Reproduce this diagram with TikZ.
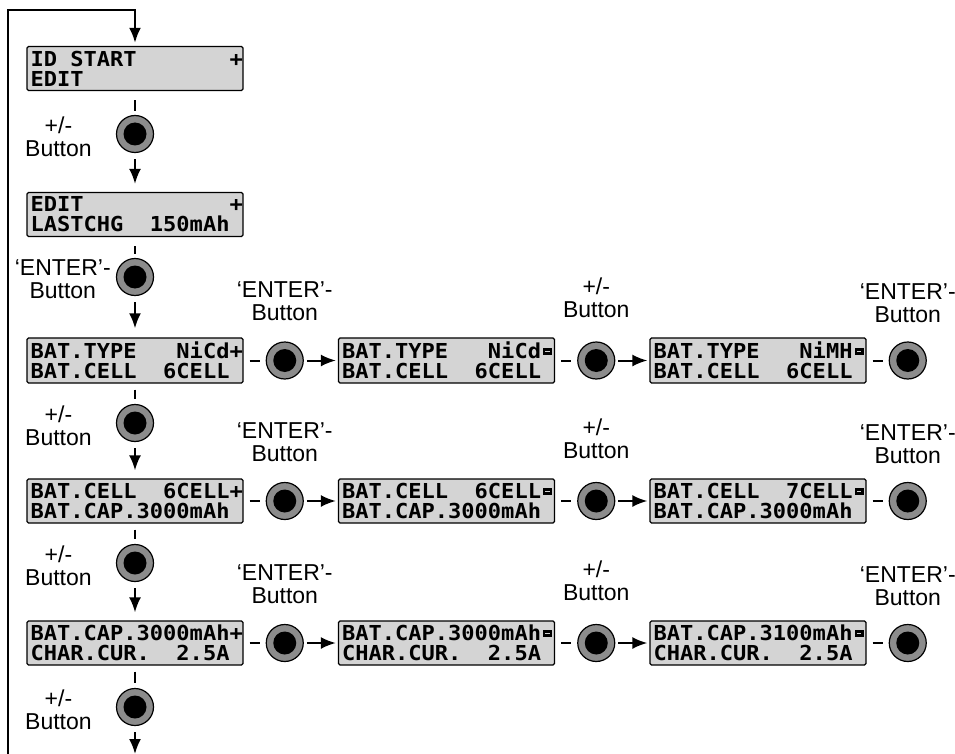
\documentclass[tikz,border=0pt]{standalone}
\usepackage{fontspec}
\setmainfont{Liberation Sans}
\newfontfamily\lcdfont{DejaVu Sans Mono}[FakeStretch=1.07]
\usepackage{tikz}
\usetikzlibrary{positioning, arrows.meta}

\definecolor{lcdgray}{gray}{0.83}
\definecolor{ringgray}{gray}{0.55}

% blank cells and the little black box with a dash, as shown on the display
\newcommand\gap[1]{\hspace*{#1\fontcharwd\font`0}}
\newcommand\lcdminus{\makebox[\fontcharwd\font`0][c]{\raisebox{0.17em}{\rlap{\rule{0.42em}{0.34em}}\hspace{0.1em}\textcolor{lcdgray}{\rule[0.15em]{0.22em}{0.05em}}\hspace{0.1em}}}}

\begin{document}
\begin{tikzpicture}[
						x=1pt, y=-1pt,
						every node/.style={font=\fontsize{23}{23}\selectfont},
						lcd/.style={draw, line width=1.3pt, fill=lcdgray, rounded corners=1.5pt,
								text width=209pt, minimum height=44pt, inner xsep=3.5pt, inner ysep=4pt, align=left,
								font=\lcdfont\bfseries\fontsize{20.6}{20}\selectfont},
						knob/.style={circle, draw, line width=1.2pt, fill=ringgray, minimum size=37pt, inner sep=0pt,
								path picture={\fill[black] (path picture bounding box.center) circle (11.5pt);}},
						lbl/.style={align=center, inner sep=0pt},
						stub/.style={line width=2pt},
						flow/.style={line width=2pt, -{Latex[length=15pt,width=12pt]}}
				]
    \useasboundingbox (0,0) rectangle (955,754);

    % main column
    \node[lcd] (IdStart) at (135,68.5) {ID\gap{1}START\gap{7}+\\EDIT};
    \node[knob] (PlusA) at (135,134) {};
    \node[lcd] (LastChg) at (135,214.5) {EDIT\gap{11}+\\LASTCHG\gap{2}150mAh};
    \node[knob] (EnterA) at (135,277) {};
    \node[lcd] (TypeNiCd) at (135,360.5) {BAT.TYPE\gap{3}NiCd+\\BAT.CELL\gap{2}6CELL};
    \node[knob] (PlusB) at (135,423) {};
    \node[lcd] (CellSix) at (135,501) {BAT.CELL\gap{2}6CELL+\\BAT.CAP.3000mAh};
    \node[knob] (PlusC) at (135,563) {};
    \node[lcd] (CapOld) at (135,643) {BAT.CAP.3000mAh+\\CHAR.CUR.\gap{2}2.5A};
    \node[knob] (PlusD) at (135,707) {};

    % battery type row
    \node[knob, right=22pt of TypeNiCd] (EnterType) {};
    \node[lcd, right=34pt of EnterType] (TypeSel) {BAT.TYPE\gap{3}NiCd\lcdminus\\BAT.CELL\gap{2}6CELL};
    \node[knob, right=22pt of TypeSel] (PlusType) {};
    \node[lcd, right=34pt of PlusType] (TypeNiMH) {BAT.TYPE\gap{3}NiMH\lcdminus\\BAT.CELL\gap{2}6CELL};
    \node[knob, right=22pt of TypeNiMH] (EnterTypeEnd) {};

    % cell count row
    \node[knob, right=22pt of CellSix] (EnterCell) {};
    \node[lcd, right=34pt of EnterCell] (CellSel) {BAT.CELL\gap{2}6CELL\lcdminus\\BAT.CAP.3000mAh};
    \node[knob, right=22pt of CellSel] (PlusCell) {};
    \node[lcd, right=34pt of PlusCell] (CellSeven) {BAT.CELL\gap{2}7CELL\lcdminus\\BAT.CAP.3000mAh};
    \node[knob, right=22pt of CellSeven] (EnterCellEnd) {};

    % capacity row
    \node[knob, right=22pt of CapOld] (EnterCap) {};
    \node[lcd, right=34pt of EnterCap] (CapSel) {BAT.CAP.3000mAh\lcdminus\\CHAR.CUR.\gap{2}2.5A};
    \node[knob, right=22pt of CapSel] (PlusCap) {};
    \node[lcd, right=34pt of PlusCap] (CapNew) {BAT.CAP.3100mAh\lcdminus\\CHAR.CUR.\gap{2}2.5A};
    \node[knob, right=22pt of CapNew] (EnterCapEnd) {};

    % button labels
    \node[lbl, left=24pt of PlusA, yshift=-3pt] (PlusALabel) {+/-\\Button};
    \node[lbl, left=5pt of EnterA, yshift=-2pt] (EnterALabel) {‘ENTER’-\\Button};
    \node[lbl, left=24pt of PlusB, yshift=-3pt] (PlusBLabel) {+/-\\Button};
    \node[lbl, left=24pt of PlusC, yshift=-3pt] (PlusCLabel) {+/-\\Button};
    \node[lbl, left=24pt of PlusD, yshift=-3pt] (PlusDLabel) {+/-\\Button};
    \node[lbl, above=20pt of EnterType] (EnterTypeLabel) {‘ENTER’-\\Button};
    \node[lbl, above=23pt of PlusType] (PlusTypeLabel) {+/-\\Button};
    \node[lbl, above=18pt of EnterTypeEnd] (EnterTypeEndLabel) {‘ENTER’-\\Button};
    \node[lbl, above=20pt of EnterCell] (EnterCellLabel) {‘ENTER’-\\Button};
    \node[lbl, above=23pt of PlusCell] (PlusCellLabel) {+/-\\Button};
    \node[lbl, above=18pt of EnterCellEnd] (EnterCellEndLabel) {‘ENTER’-\\Button};
    \node[lbl, above=20pt of EnterCap] (EnterCapLabel) {‘ENTER’-\\Button};
    \node[lbl, above=23pt of PlusCap] (PlusCapLabel) {+/-\\Button};
    \node[lbl, above=18pt of EnterCapEnd] (EnterCapEndLabel) {‘ENTER’-\\Button};

    % loop back to the start
    \coordinate (LoopBottom) at (8,754);
    \coordinate (LoopTop) at (8,10);
    \coordinate (LoopExit) at (135,754);
    \draw[flow, line width=2.3pt, shorten >=3pt] (LoopBottom) -- (LoopTop) -| (IdStart.north);
    \draw[flow, shorten <=6pt] (PlusD) -- (LoopExit);

    % vertical steps
    \draw[stub, shorten <=9pt, shorten >=4pt] (IdStart) -- (PlusA);
    \draw[flow, shorten <=6pt, shorten >=8pt] (PlusA) -- (LastChg);
    \draw[stub, shorten <=9pt, shorten >=4pt] (LastChg) -- (EnterA);
    \draw[flow, shorten <=6pt, shorten >=9pt] (EnterA) -- (TypeNiCd);
    \draw[stub, shorten <=6pt, shorten >=5pt] (TypeNiCd) -- (PlusB);
    \draw[flow, shorten <=6pt, shorten >=8pt] (PlusB) -- (CellSix);
    \draw[stub, shorten <=6pt, shorten >=5pt] (CellSix) -- (PlusC);
    \draw[flow, shorten <=6pt, shorten >=8pt] (PlusC) -- (CapOld);
    \draw[stub, shorten <=6pt, shorten >=5pt] (CapOld) -- (PlusD);

    % horizontal steps
    \draw[stub, shorten <=6pt, shorten >=6pt] (TypeNiCd) -- (EnterType);
    \draw[flow, shorten <=3pt, shorten >=2pt] (EnterType) -- (TypeSel);
    \draw[stub, shorten <=6pt, shorten >=6pt] (TypeSel) -- (PlusType);
    \draw[flow, shorten <=3pt, shorten >=2pt] (PlusType) -- (TypeNiMH);
    \draw[stub, shorten <=6pt, shorten >=6pt] (TypeNiMH) -- (EnterTypeEnd);

    \draw[stub, shorten <=6pt, shorten >=6pt] (CellSix) -- (EnterCell);
    \draw[flow, shorten <=3pt, shorten >=2pt] (EnterCell) -- (CellSel);
    \draw[stub, shorten <=6pt, shorten >=6pt] (CellSel) -- (PlusCell);
    \draw[flow, shorten <=3pt, shorten >=2pt] (PlusCell) -- (CellSeven);
    \draw[stub, shorten <=6pt, shorten >=6pt] (CellSeven) -- (EnterCellEnd);

    \draw[stub, shorten <=6pt, shorten >=6pt] (CapOld) -- (EnterCap);
    \draw[flow, shorten <=3pt, shorten >=2pt] (EnterCap) -- (CapSel);
    \draw[stub, shorten <=6pt, shorten >=6pt] (CapSel) -- (PlusCap);
    \draw[flow, shorten <=3pt, shorten >=2pt] (PlusCap) -- (CapNew);
    \draw[stub, shorten <=6pt, shorten >=6pt] (CapNew) -- (EnterCapEnd);

  \end{tikzpicture}
\end{document}
